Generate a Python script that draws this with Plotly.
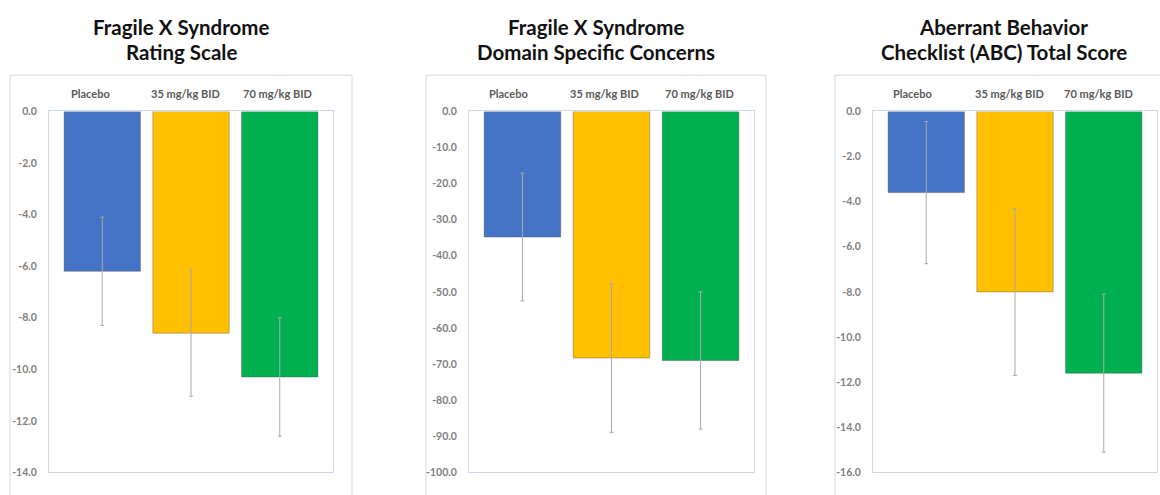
import plotly.graph_objects as go

# Treatment arms and their bar colours
categories = ["Placebo", "35 mg/kg BID", "70 mg/kg BID"]
bar_colors = ["#4472C4", "#FFC000", "#00B050"]

# Panel titles
titles = [
    "Fragile X Syndrome<br>Rating Scale",
    "Fragile X Syndrome<br>Domain Specific Concerns",
    "Aberrant Behavior<br>Checklist (ABC) Total Score",
]

# Mean change from baseline and error half-widths per panel
frs_means = [-6.2, -8.6, -10.3]
frs_err = [2.1, 2.45, 2.3]

dsc_means = [-34.8, -68.3, -69.0]
dsc_err = [17.7, 20.6, 19.0]

abc_means = [-3.6, -8.0, -11.6]
abc_err = [3.15, 3.7, 3.5]

# Y-axis ticks per panel
frs_tickvals = [0, -2, -4, -6, -8, -10, -12, -14]
frs_ticktext = ["0.0", "-2.0", "-4.0", "-6.0", "-8.0", "-10.0", "-12.0", "-14.0"]

dsc_tickvals = [0, -10, -20, -30, -40, -50, -60, -70, -80, -90, -100]
dsc_ticktext = ["0.0", "-10.0", "-20.0", "-30.0", "-40.0", "-50.0",
                "-60.0", "-70.0", "-80.0", "-90.0", "-100.0"]

abc_tickvals = [0, -2, -4, -6, -8, -10, -12, -14, -16]
abc_ticktext = ["0.0", "-2.0", "-4.0", "-6.0", "-8.0", "-10.0", "-12.0", "-14.0", "-16.0"]

W, H = 1160, 495
FONT = "Lato"

panels = [
    dict(means=frs_means, err=frs_err, tv=frs_tickvals, tt=frs_ticktext,
         yr=[-14, 0], px=(49, 333), box=(10, 352), lab_dx=(-12, -6, -2)),
    dict(means=dsc_means, err=dsc_err, tv=dsc_tickvals, tt=dsc_ticktext,
         yr=[-100, 0], px=(469, 754), box=(426, 766), lab_dx=(-14, -7, -1)),
    dict(means=abc_means, err=abc_err, tv=abc_tickvals, tt=abc_ticktext,
         yr=[-16, 0], px=(873, 1157), box=(835, 1172), lab_dx=(-14, -6, -5)),
]

# vertical layout (pixels from the top of the figure)
plot_top, plot_bottom = 108, 478
frame_top = 71
title_rows = (22, 47)
ydom = [1 - plot_bottom / H, 1 - plot_top / H]

fig = go.Figure()
layout = dict(
    width=W, height=H,
    margin=dict(l=0, r=0, t=0, b=0),
    paper_bgcolor="white", plot_bgcolor="white",
    showlegend=False,
    font=dict(family=FONT),
    shapes=[], annotations=[],
)

for i, p in enumerate(panels):
    n = "" if i == 0 else str(i + 1)
    xa, ya = "x" + n, "y" + n
    fig.add_trace(go.Bar(
        x=categories, y=p["means"],
        xaxis=xa, yaxis=ya,
        width=0.86,
        marker=dict(color=bar_colors,
                    line=dict(color="rgba(60,60,60,0.35)", width=1)),
        error_y=dict(type="data", array=p["err"], symmetric=True,
                     color="#a9a9a9", thickness=1, width=2),
        hoverinfo="skip",
    ))
    xdom = [p["px"][0] / W, p["px"][1] / W]
    layout["xaxis" + n] = dict(
        domain=xdom, anchor=ya, side="top",
        type="category", range=[-0.6, 2.6],
        showline=True, mirror=True, linecolor="#cdd8e6", linewidth=1,
        showgrid=False, zeroline=False, ticks="", showticklabels=False,
    )
    layout["yaxis" + n] = dict(
        domain=ydom, anchor=xa, range=p["yr"],
        tickmode="array", tickvals=p["tv"], ticktext=p["tt"],
        showline=True, mirror=True, linecolor="#cdd8e6", linewidth=1,
        showgrid=False, zeroline=False, ticks="",
        ticklabelstandoff=9,
        tickfont=dict(family=FONT, size=10.5, color="#7f7f7f", weight="bold"),
    )
    # category labels above the plot area
    for cat, dx in zip(categories, p["lab_dx"]):
        layout["annotations"].append(dict(
            text=cat, xref=xa, yref=ya + " domain",
            x=cat, y=1, yshift=18, xshift=dx,
            xanchor="center", yanchor="middle", showarrow=False,
            font=dict(family=FONT, size=11, color="#595959", weight="bold"),
        ))
    # outer chart frame
    layout["shapes"].append(dict(
        type="rect", xref="paper", yref="paper",
        x0=p["box"][0] / W, x1=p["box"][1] / W,
        y0=-0.05, y1=1 - frame_top / H,
        line=dict(color="#d9d9d9", width=1), fillcolor="rgba(0,0,0,0)",
        layer="below",
    ))
    # two-line bold title, one annotation per line
    for row, line in zip(title_rows, titles[i].split("<br>")):
        layout["annotations"].append(dict(
            text=line, xref="paper", yref="paper",
            x=(p["box"][0] + p["box"][1]) / 2 / W, y=1 - row / H,
            xanchor="center", yanchor="middle", showarrow=False,
            font=dict(family=FONT, size=20.5, color="#111111", weight="bold"),
        ))

fig.update_layout(**layout)
fig.write_html("out.html")
